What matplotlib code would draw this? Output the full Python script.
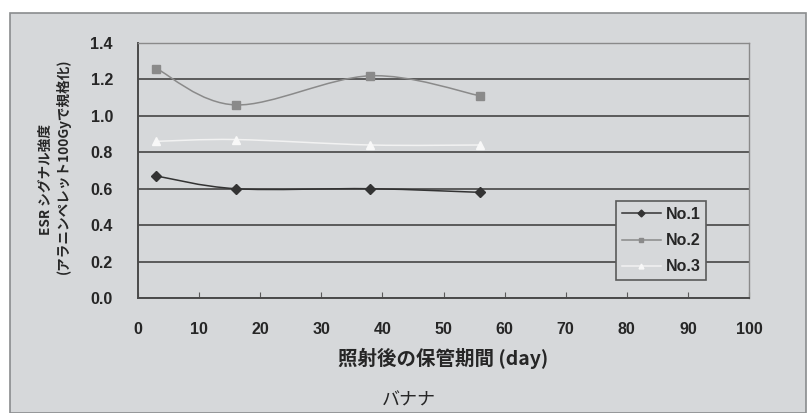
import matplotlib
matplotlib.use("Agg")
import matplotlib.pyplot as plt
from matplotlib.path import Path
from matplotlib.patches import PathPatch, Rectangle
from matplotlib.lines import Line2D
import numpy as np

plt.rcParams['font.family'] = ['Noto Sans CJK JP', 'DejaVu Sans']

days = [3, 16, 38, 56]
no1 = [0.67, 0.60, 0.60, 0.58]
no2 = [1.26, 1.06, 1.22, 1.11]
no3 = [0.86, 0.87, 0.84, 0.84]
series_names = ["No.1", "No.2", "No.3"]
x_ticks = [0, 10, 20, 30, 40, 50, 60, 70, 80, 90, 100]
y_ticks = [0.0, 0.2, 0.4, 0.6, 0.8, 1.0, 1.2, 1.4]
xlabel = "照射後の保管期間 (day)"
ylabel_lines = ["ESR シグナル強度", "(アラニンペレット100Gyで規格化)"]
title = "バナナ"

bg = "#d6d8da"
txt = "#262626"
fig = plt.figure(figsize=(8.12, 4.13), dpi=100)
fig.patch.set_facecolor("white")
fig.patches.append(Rectangle((10 / 812, 0), 796 / 812, 1 - 13 / 413,
                             transform=fig.transFigure, facecolor=bg,
                             edgecolor="#8a8c8e", linewidth=1.2, zorder=-5))

ax = fig.add_axes([138 / 812, 1 - 298 / 413, 611 / 812, 255 / 413])
ax.set_zorder(2)
ax.set_facecolor(bg)
ax.set_xlim(0, 100)
ax.set_ylim(0, 1.4)


def smooth_path(xs, ys):
    # Catmull-Rom style Bezier segments through the points
    pts = np.column_stack([xs, ys]).astype(float)
    verts = [pts[0]]
    codes = [Path.MOVETO]
    n = len(pts)
    for i in range(n - 1):
        p0 = pts[i - 1] if i > 0 else pts[i]
        p1 = pts[i]
        p2 = pts[i + 1]
        p3 = pts[i + 2] if i + 2 < n else pts[i + 1]
        c1 = p1 + (p2 - p0) / 6.0
        c2 = p2 - (p3 - p1) / 6.0
        verts += [c1, c2, p2]
        codes += [Path.CURVE4] * 3
    return Path(verts, codes)


styles = [
    (no1, "#333333", "D", 5, "#333333"),
    (no2, "#8a8a8a", "s", 6, "#8a8a8a"),
    (no3, "#f2f2f2", "^", 6, "#f8f8f8"),
]
handles = []
for (vals, col, mk, ms, mcol), name in zip(styles, series_names):
    ax.add_patch(PathPatch(smooth_path(days, vals), facecolor="none",
                           edgecolor=col, linewidth=1.1, zorder=3))
    ax.plot(days, vals, linestyle="none", marker=mk, markersize=ms,
            color=mcol, markeredgecolor=mcol, zorder=4)
    handles.append(Line2D([], [], color=col, linewidth=1.1, marker=mk,
                          markersize=3.5, markerfacecolor=mcol,
                          markeredgecolor=mcol, label=name))

ax.set_yticks(y_ticks)
ax.set_yticklabels([f"{v:.1f}" for v in y_ticks])
ax.set_xticks(x_ticks)
ax.grid(axis="y", color="#5a5a5a", linewidth=1.4)
ax.set_axisbelow(True)
ax.tick_params(axis="x", direction="in", length=4, color="#5a5a5a",
               labelsize=11.5, pad=17, labelcolor=txt)
ax.tick_params(axis="y", length=0, labelsize=11.5, pad=18,
               labelcolor=txt)
for lbl in ax.get_xticklabels() + ax.get_yticklabels():
    lbl.set_fontweight("bold")
    lbl.set_family(["Liberation Sans", "DejaVu Sans"])

for side in ["left", "bottom"]:
    ax.spines[side].set_color("#4a4a4a")
    ax.spines[side].set_linewidth(1.4)
for side in ["top", "right"]:
    ax.spines[side].set_color("#8a8a8a")
    ax.spines[side].set_linewidth(1.0)

fig.text(443 / 812, 1 - 358 / 413, xlabel, ha="center", va="center",
         fontsize=14, fontweight="bold", color=txt)
fig.text(46 / 812, 1 - 179 / 413, ylabel_lines[0], rotation=90,
         ha="center", va="center", fontsize=9.8, fontweight="bold",
         color=txt)
fig.text(63 / 812, 1 - 166 / 413, ylabel_lines[1], rotation=90,
         ha="center", va="center", fontsize=9.8, fontweight="bold",
         color=txt)
fig.text(409 / 812, 1 - 401 / 413, title, ha="center", va="center",
         fontsize=13, color=txt)

leg = ax.legend(handles=handles, loc="lower right",
                bbox_to_anchor=(706 / 611 - 138 / 611, (298 - 280) / 255),
                frameon=True, fancybox=False, edgecolor="#5a5a5a",
                facecolor=bg, framealpha=1, fontsize=11.5, handlelength=2.45,
                handletextpad=0.3, borderpad=0.35, labelspacing=0.7,
                borderaxespad=0)
leg.get_frame().set_linewidth(1.2)
for t in leg.get_texts():
    t.set_fontweight("bold")
    t.set_family(["Liberation Sans", "DejaVu Sans"])
    t.set_color(txt)

fig.savefig("out.png", dpi=100, facecolor=fig.get_facecolor())
